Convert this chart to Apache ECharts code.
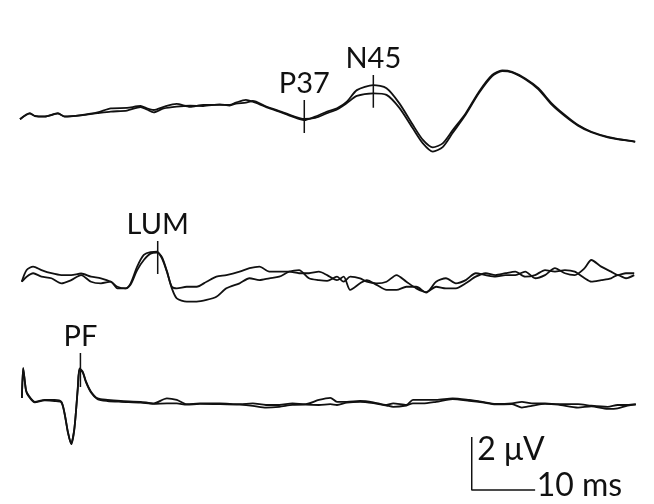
<!DOCTYPE html>
<html>
<head>
<meta charset="utf-8">
<title>Evoked potentials</title>
<script src="https://cdn.jsdelivr.net/npm/echarts@6/dist/echarts.min.js"></script>
<style>
  html, body { margin: 0; padding: 0; background: #fff; }
  #chart { width: 654px; height: 504px; }
</style>
</head>
<body>
<div id="chart"></div>
<script>
// Time base (ms) and amplitudes (µV, negative drawn upward) for each recording row.
const topTime = [0, 1.56, 2.34, 3.91, 5.98, 7.03, 9.64, 12.23, 14.33, 16.88, 19.02, 20.0, 21.09, 22.66, 24.69, 26.83, 28.91, 31.52, 33.08, 34.06, 35.63, 36.72, 38.75, 40.89, 42.97, 44.8, 46.56, 48.44, 50.0, 51.56, 53.13, 55.73, 57.81, 59.84, 61.98, 63.55, 65.11, 66.67, 68.23, 70.31, 72.39, 74.48, 76.05, 77.61, 79.69, 81.77, 83.86, 85.94, 88.02, 90.11, 92.7, 95.31, 97.03];
const topA = [0.01, -0.22, -0.11, -0.09, -0.22, -0.09, -0.15, -0.25, -0.40, -0.42, -0.49, -0.40, -0.34, -0.46, -0.57, -0.46, -0.53, -0.53, -0.53, -0.62, -0.72, -0.65, -0.46, -0.28, -0.09, 0.04, -0.09, -0.28, -0.40, -0.65, -1.09, -1.28, -1.16, -0.59, 0.23, 0.79, 1.07, 0.92, 0.43, -0.22, -1.03, -1.66, -1.83, -1.78, -1.53, -1.16, -0.59, -0.15, 0.23, 0.48, 0.67, 0.79, 0.85];
const topB = [0.01, -0.20, -0.12, -0.10, -0.20, -0.10, -0.14, -0.22, -0.28, -0.32, -0.45, -0.36, -0.25, -0.40, -0.47, -0.50, -0.49, -0.55, -0.51, -0.58, -0.62, -0.68, -0.48, -0.30, -0.12, 0.00, -0.04, -0.22, -0.36, -0.60, -0.87, -0.97, -0.91, -0.42, 0.36, 0.92, 1.23, 1.06, 0.53, -0.17, -0.98, -1.62, -1.81, -1.76, -1.50, -1.12, -0.54, -0.11, 0.25, 0.50, 0.69, 0.80, 0.86];

const midTime = [0.27, 1.05, 2.08, 3.39, 4.95, 6.52, 8.08, 9.64, 11.2, 12.77, 14.33, 15.36, 16.67, 17.45, 18.48, 19.53, 20.58, 21.61, 22.39, 23.17, 23.95, 24.73, 26.3, 27.86, 29.42, 30.98, 32.55, 34.64, 36.2, 37.77, 39.33, 40.89, 42.45, 44.02, 45.58, 47.14, 48.44, 50.0, 51.05, 52.08, 53.64, 54.69, 56.25, 57.81, 59.38, 60.94, 62.5, 64.06, 65.63, 67.19, 68.75, 70.31, 71.88, 73.44, 75.0, 76.56, 78.13, 79.69, 81.25, 82.81, 84.38, 85.94, 87.5, 89.06, 90.11, 91.67, 93.23, 94.27, 95.58, 96.88];
const midA = [0.14, -0.30, -0.43, -0.30, -0.18, -0.11, -0.11, -0.17, -0.05, 0.01, 0.14, 0.33, 0.39, 0.20, -0.43, -0.87, -0.98, -0.99, -0.74, -0.24, 0.33, 0.39, 0.33, 0.33, 0.14, -0.05, -0.11, -0.24, -0.37, -0.43, -0.24, -0.24, -0.24, -0.18, -0.18, -0.24, -0.11, 0.08, -0.05, 0.45, 0.20, 0.08, 0.26, 0.45, 0.45, 0.33, 0.33, 0.55, 0.14, 0.01, 0.20, 0.08, -0.18, -0.11, -0.05, -0.11, -0.11, -0.24, 0.01, -0.11, -0.37, -0.18, -0.11, -0.37, -0.68, -0.43, -0.24, -0.11, -0.18, -0.18];
const midB = [0.14, -0.05, -0.18, -0.05, 0.01, 0.20, 0.08, -0.11, 0.14, 0.20, 0.14, 0.39, 0.39, 0.25, -0.30, -0.68, -0.92, -0.96, -0.79, -0.26, 0.39, 0.77, 0.89, 0.89, 0.83, 0.71, 0.39, 0.20, 0.01, 0.08, 0.01, -0.05, -0.24, -0.30, 0.01, 0.08, 0.11, -0.05, 0.14, -0.05, 0.01, 0.14, 0.20, 0.14, -0.11, 0.14, 0.39, 0.53, 0.33, 0.39, 0.39, 0.20, -0.05, -0.18, -0.11, -0.18, -0.24, -0.05, -0.11, -0.30, -0.24, -0.30, -0.24, 0.01, 0.14, 0.08, 0.01, -0.11, 0.01, -0.11];

const botTime = [0.3, 0.5, 0.94, 1.3, 2.34, 3.91, 5.47, 6.52, 7.03, 7.55, 8.08, 8.59, 9.11, 9.38, 9.89, 10.42, 11.2, 12.23, 13.8, 15.89, 19.02, 21.09, 23.17, 24.73, 26.3, 28.39, 31.52, 34.64, 36.72, 38.8, 40.89, 42.97, 45.05, 47.14, 48.95, 50.0, 51.56, 53.64, 55.73, 57.81, 58.86, 60.94, 61.98, 63.55, 65.63, 68.23, 70.83, 72.92, 75.0, 77.61, 79.17, 80.73, 82.81, 84.89, 88.02, 90.11, 92.7, 94.27, 95.83, 97.14];
const botA = [-0.11, -1.25, -0.42, -0.23, 0.03, -0.04, -0.04, 0.03, 0.46, 1.16, 1.63, 1.03, -0.48, -1.23, -1.11, -0.73, -0.35, -0.10, -0.04, 0.00, 0.03, 0.09, -0.10, -0.04, 0.12, 0.09, 0.09, 0.12, 0.09, 0.15, 0.15, 0.09, 0.12, -0.04, -0.12, 0.03, 0.03, 0.00, 0.05, 0.15, 0.09, 0.15, -0.04, -0.04, -0.04, -0.10, -0.04, 0.03, 0.11, 0.09, 0.03, 0.09, 0.09, 0.12, 0.12, 0.18, 0.22, 0.15, 0.15, 0.12];
const botB = [-0.11, -1.22, -0.40, -0.20, 0.05, -0.02, 0.00, 0.05, 0.48, 1.18, 1.60, 1.00, -0.45, -1.18, -1.08, -0.70, -0.32, -0.07, 0.00, 0.03, 0.06, 0.11, 0.09, 0.09, 0.14, 0.11, 0.12, 0.14, 0.18, 0.25, 0.22, 0.15, 0.14, 0.15, 0.12, 0.15, 0.06, 0.03, 0.08, 0.17, 0.22, 0.17, 0.09, 0.09, 0.03, -0.07, -0.01, 0.05, 0.13, 0.12, 0.25, 0.18, 0.11, 0.14, 0.25, 0.20, 0.30, 0.28, 0.17, 0.14];

// Component markers: name, row, latency (ms) and the extent of the tick (µV).
const markerNames = ['P37', 'N45', 'LUM', 'PF'];
const markerRow = [0, 0, 1, 2];
const markerTime = [44.84, 55.73, 21.72, 9.53];
const markerFrom = [-0.72, -1.66, -1.40, -1.81];
const markerTo = [0.53, -0.42, -0.15, -0.53];

// Calibration bar, drawn in the bottom row.
const scaleBarMs = 10;
const scaleBarUv = 2;
const scaleBarLabels = ['2 \u03bcV', '10 ms'];
const scaleBarStart = [71.25, 1.36];

const INK = '#111';
const FONT = 'Lato';
const FONT_SIZE = 29;
const BAR_FONT_SIZE = 32;

const rows = [
  { time: topTime, a: topA, b: topB },
  { time: midTime, a: midA, b: midB },
  { time: botTime, a: botA, b: botB }
];

const grids = [
  { left: 20, top: 13, width: 640, height: 159 },
  { left: 20, top: 225, width: 640, height: 106 },
  { left: 20, top: 348, width: 640, height: 145.75 }
];
const yRanges = [[-4, 2], [-2, 2], [-2, 3.5]];

const pairs = (t, v) => t.map((x, i) => [x, v[i]]);

const series = [];
rows.forEach((row, r) => {
  [row.a, row.b].forEach(vals => {
    series.push({
      type: 'line',
      xAxisIndex: r,
      yAxisIndex: r,
      data: pairs(row.time, vals),
      showSymbol: false,
      smooth: 0.25,
      lineStyle: { color: INK, width: 1.8 },
      silent: true
    });
  });
});

const labelStyle = { color: INK, fontFamily: FONT, fontSize: FONT_SIZE };
const barLabelStyle = { color: INK, fontFamily: FONT, fontSize: BAR_FONT_SIZE };

markerNames.forEach((name, i) => {
  series.push({
    type: 'line',
    xAxisIndex: markerRow[i],
    yAxisIndex: markerRow[i],
    data: [
      {
        value: [markerTime[i], markerFrom[i]],
        label: Object.assign({ show: true, position: 'top', distance: 1, formatter: name }, labelStyle)
      },
      { value: [markerTime[i], markerTo[i]] }
    ],
    symbol: 'circle',
    symbolSize: 1,
    showSymbol: true,
    itemStyle: { color: 'rgba(0,0,0,0)' },
    lineStyle: { color: INK, width: 1.5 },
    silent: true
  });
});

const [sx, sy] = scaleBarStart;
series.push({
  type: 'line',
  xAxisIndex: 2,
  yAxisIndex: 2,
  data: [
    {
      value: [sx, sy],
      label: Object.assign({ show: true, position: 'right', distance: 5, verticalAlign: 'top', offset: [0, -3], formatter: scaleBarLabels[0] }, barLabelStyle)
    },
    { value: [sx, sy + scaleBarUv] },
    {
      value: [sx + scaleBarMs, sy + scaleBarUv],
      label: Object.assign({ show: true, position: 'right', distance: 1, offset: [0, -4], formatter: scaleBarLabels[1] }, barLabelStyle)
    }
  ],
  symbol: 'circle',
  symbolSize: 1,
  showSymbol: true,
  itemStyle: { color: 'rgba(0,0,0,0)' },
  lineStyle: { color: INK, width: 1.5 },
  silent: true
});

const chart = echarts.init(document.getElementById('chart'), null, { renderer: 'canvas' });
chart.setOption({
  animation: false,
  backgroundColor: '#fff',
  grid: grids,
  xAxis: grids.map((g, i) => ({ gridIndex: i, type: 'value', min: 0, max: 100, show: false })),
  yAxis: grids.map((g, i) => ({ gridIndex: i, type: 'value', inverse: true, min: yRanges[i][0], max: yRanges[i][1], show: false })),
  series: series
});
</script>
</body>
</html>
